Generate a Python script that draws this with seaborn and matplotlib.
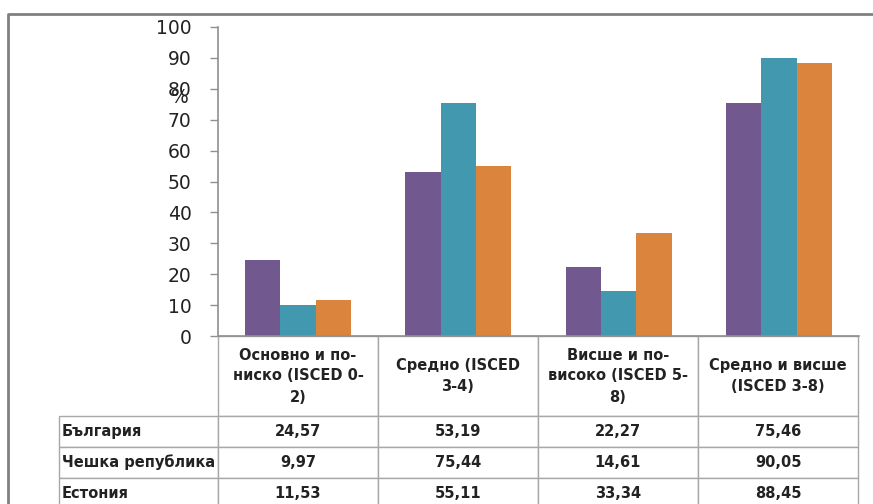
import matplotlib
matplotlib.use("Agg")
import matplotlib.pyplot as plt
from matplotlib.lines import Line2D
import pandas as pd
import seaborn as sb

categories = ["Основно и по-\nниско (ISCED 0-\n2)", "Средно (ISCED\n3-4)",
              "Висше и по-\nвисоко (ISCED 5-\n8)", "Средно и висше\n(ISCED 3-8)"]
countries = ["България", "Чешка република", "Естония"]
bulgaria = [24.57, 53.19, 22.27, 75.46]
czech = [9.97, 75.44, 14.61, 90.05]
estonia = [11.53, 55.11, 33.34, 88.45]
colors = ["#71588F", "#4198AF", "#DB843D"]

sb.set_style("white")
plt.rcParams['font.family'] = ['DejaVu Sans']

series = [bulgaria, czech, estonia]
rows = []
for country, vals in zip(countries, series):
    for cat, v in zip(categories, vals):
        rows.append({'cat': cat, 'country': country, 'value': v})
df = pd.DataFrame(rows)

W, H = 873, 504
AXW, AXH = 641, 309
fig = plt.figure(figsize=(W / 100, H / 100), dpi=100)
ax = fig.add_axes([218 / W, 1 - 336 / H, AXW / W, AXH / H])

sb.barplot(data=df, x='cat', y='value', hue='country', palette=colors,
           width=0.66, gap=0, saturation=1, legend=False, linewidth=0, ax=ax)

ax.set_ylim(0, 100)
ax.set_yticks(range(0, 101, 10))
ax.set_xlim(-0.5, len(categories) - 0.5)
ax.set_xticks([])
ax.set_xlabel('')
ax.set_ylabel('')
ax.tick_params(axis='y', left=True, length=6, width=1, color='#909090',
               pad=13, labelsize=13.5, labelcolor='#222222')
for s in ['top', 'right']:
    ax.spines[s].set_visible(False)
for s in ['left', 'bottom']:
    ax.spines[s].set_color('#909090')
    ax.spines[s].set_linewidth(1.2)

ax.text(-0.059, 0.773, '%', transform=ax.transAxes, fontsize=13.5,
        color='#222222', ha='center', va='center')

# data table under the bars; sizes in axes fractions so the bbox fit keeps them
cell_text = [[f"{v:.2f}".replace('.', ',') for v in vals] for vals in series]
tbl = ax.table(cellText=cell_text, rowLabels=countries, colLabels=categories,
               cellLoc='center', rowLoc='left', colLoc='center',
               bbox=[0, -173 / AXH, 640 / AXW, 173 / AXH])
tbl.auto_set_font_size(False)
for (r, c), cell in tbl.get_celld().items():
    cell.set_edgecolor('#A8A8A8')
    cell.set_linewidth(1.0)
    cell.set_height((80 if r == 0 else 31) / AXH)
    cell.set_width((161 if c == -1 else 160) / AXW)
    t = cell.get_text()
    t.set_fontsize(10.5)
    t.set_fontweight('bold')
    t.set_color('#222222')
    if r == 0:
        t.set_linespacing(1.5)
    if c == -1:
        cell.PAD = 0.02

# outer frame of the original picture
fig.add_artist(Line2D([8 / W, 8 / W, 1.0], [0, 1 - 14 / H, 1 - 14 / H],
                      color='#808080', lw=2))

plt.savefig('out.png', dpi=100)
